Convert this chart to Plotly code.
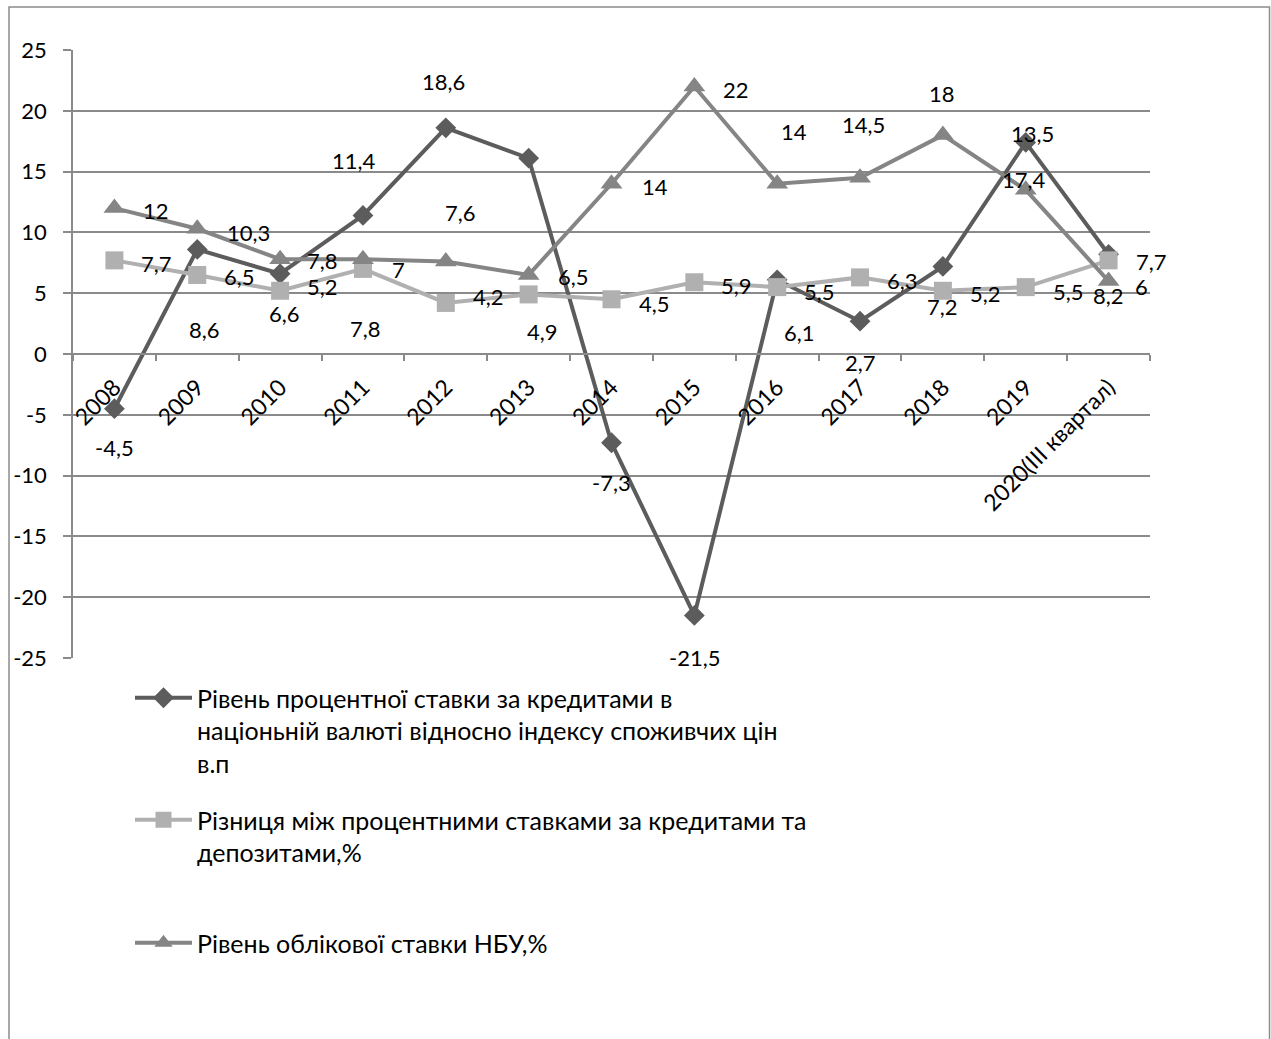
import plotly.graph_objects as go

categories = ["2008", "2009", "2010", "2011", "2012", "2013", "2014", "2015",
              "2016", "2017", "2018", "2019", "2020(III квартал)"]

name_rate_cpi = ("Рівень процентної ставки за кредитами в<br>"
                 "націоньній валюті відносно індексу споживчих цін<br>в.п")
name_spread = "Різниця між процентними ставками за кредитами та<br>депозитами,%"
name_nbu = "Рівень облікової ставки НБУ,%"

rate_cpi = [-4.5, 8.6, 6.6, 11.4, 18.6, 16.1, -7.3, -21.5, 6.1, 2.7, 7.2, 17.4, 8.2]
rate_cpi_labels = [True, True, True, True, True, False, True, True, True, True, True, True, True]
spread = [7.7, 6.5, 5.2, 7.0, 4.2, 4.9, 4.5, 5.9, 5.5, 6.3, 5.2, 5.5, 7.7]
nbu_rate = [12, 10.3, 7.8, 7.8, 7.6, 6.5, 14, 22, 14, 14.5, 18, 13.5, 6]

y_tickvals = [-25, -20, -15, -10, -5, 0, 5, 10, 15, 20, 25]
y_ticktext = ["-25", "-20", "-15", "-10", "-5", "0", "5", "10", "15", "20", "25"]

# label placement styles: (xanchor, xshift px, down-offset px)
place_cpi = [("center", 0, 39), ("center", 7, 80), ("center", 4, 40), ("center", -9, -55),
             ("center", -2, -46), None, ("center", 0, 40), ("center", 0, 42),
             ("center", 22, 53), ("center", 0, 41), ("center", 0, 40), ("center", -2, 37),
             ("center", 0, 41)]
place_spread = [("left", 25, 3), ("left", 25, 2), ("left", 25, -4), ("left", 27, 1),
                ("left", 25, -6), ("center", 14, 37), ("left", 25, 4), ("left", 25, 3),
                ("left", 25, 4), ("left", 25, 3), ("left", 25, 3), ("left", 25, 4),
                ("left", 25, 1)]
place_nbu = [("left", 27, 2), ("left", 28, 4), ("left", 25, 1), ("center", 3, 69),
             ("center", 15, -49), ("left", 27, 2), ("left", 28, 3), ("left", 27, 3),
             ("center", 17, -52), ("center", 3, -53), ("center", -1, -42),
             ("center", 7, -56), ("left", 24, 5)]

FONT = "Lato, Carlito, 'Liberation Sans', sans-serif"
C_CPI = "#5c5c5c"
C_SPREAD = "#b0b0b0"
C_NBU = "#858585"
GRID = "#8a8a8a"

fig = go.Figure()
fig.add_trace(go.Scatter(
    x=categories, y=rate_cpi, name=name_rate_cpi, mode="lines+markers", showlegend=True,
    line=dict(color=C_CPI, width=4), marker=dict(symbol="diamond", size=16, color=C_CPI),
    legend="legend"))
fig.add_trace(go.Scatter(
    x=categories, y=spread, name=name_spread, mode="lines+markers", showlegend=True,
    line=dict(color=C_SPREAD, width=4), marker=dict(symbol="square", size=18, color=C_SPREAD),
    legend="legend2"))
fig.add_trace(go.Scatter(
    x=categories, y=nbu_rate, name=name_nbu, mode="lines+markers", showlegend=True,
    line=dict(color=C_NBU, width=4), marker=dict(symbol="triangle-up", size=19, color=C_NBU),
    legend="legend3"))


def fmt(v):
    return f"{v:g}".replace(".", ",")


annotations = []
for vals, places, shows in [(rate_cpi, place_cpi, rate_cpi_labels),
                            (spread, place_spread, [True] * len(spread)),
                            (nbu_rate, place_nbu, [True] * len(nbu_rate))]:
    for i, (v, p, s) in enumerate(zip(vals, places, shows)):
        if not s or p is None:
            continue
        anchor, dx, dy = p
        annotations.append(dict(
            x=i, y=v, xref="x", yref="y", text=fmt(v), showarrow=False,
            xanchor=anchor, yanchor="middle", xshift=dx, yshift=-dy,
            font=dict(family=FONT, size=22, color="black")))

L, R, T, B = 73, 121, 50, 381
W, H = 1271, 1039
pw, ph = W - L - R, H - T - B


def px_x(px):
    return (px - L) / pw


def px_y(py):
    return (H - B - py) / ph


legend_common = dict(bgcolor="rgba(0,0,0,0)", borderwidth=0, xanchor="left", yanchor="top",
                     valign="top", itemwidth=57, itemclick=False,
                     font=dict(family=FONT, size=25, color="black"))

fig.update_layout(
    width=W, height=H,
    margin=dict(l=L, r=R, t=T, b=B),
    paper_bgcolor="white", plot_bgcolor="white",
    showlegend=True,
    font=dict(family=FONT, size=21, color="black"),
    annotations=annotations,
    legend=dict(x=px_x(130), y=px_y(675), **legend_common),
    legend2=dict(x=px_x(130), y=px_y(797), **legend_common),
    legend3=dict(x=px_x(130), y=px_y(920), **legend_common),
    xaxis=dict(type="category", categoryorder="array", categoryarray=categories,
               range=[-0.5, len(categories) - 0.5],
               anchor="free", position=0.5,
               showline=True, linecolor=GRID, linewidth=1.5,
               ticks="outside", ticklen=6, tickcolor=GRID, tickwidth=1.5,
               tickson="boundaries", tickangle=-45, showgrid=False,
               ticklabelstandoff=10,
               tickfont=dict(family=FONT, size=23, color="black")),
    yaxis=dict(range=[-25, 25], tickmode="array", tickvals=y_tickvals, ticktext=y_ticktext,
               showgrid=True, gridcolor=GRID, gridwidth=1.5,
               zeroline=False, showline=True, linecolor=GRID, linewidth=1.5,
               ticks="outside", ticklen=8, tickcolor=GRID, tickwidth=1.5,
               ticklabelstandoff=12,
               tickfont=dict(family=FONT, size=22, color="black")),
    shapes=[dict(type="rect", xref="paper", yref="paper",
                 x0=px_x(9), x1=px_x(1269.5), y0=px_y(1060), y1=px_y(7),
                 line=dict(color="#8c8c8c", width=1.5), fillcolor="rgba(0,0,0,0)",
                 layer="below")],
)

fig.write_html("out.html")
